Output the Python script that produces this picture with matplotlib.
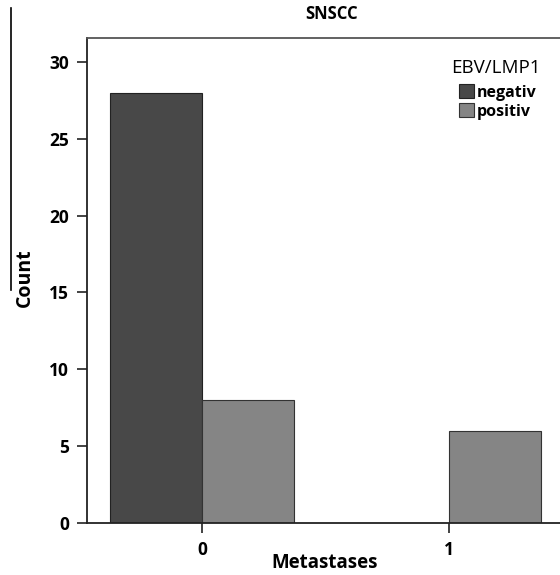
import matplotlib
matplotlib.use('Agg')
import matplotlib.pyplot as plt
from matplotlib.lines import Line2D
import numpy as np

plt.rcParams['font.family'] = ['Open Sans', 'DejaVu Sans']

categories = ['0', '1']
groups = ['negativ', 'positiv']
counts_negativ = [28, 0]
counts_positiv = [8, 6]
colors = ['#484848', '#858585']

fig = plt.figure(figsize=(5.6, 5.75), dpi=100)
ax = fig.add_axes([87/560, 1-523/575, 1-87/560, (523-38)/575])

x = np.arange(len(categories))
w = 0.372
ax.bar(x - w/2, counts_negativ, w, color=colors[0], edgecolor='#222222', linewidth=0.8, label=groups[0])
ax.bar(x + w/2, counts_positiv, w, color=colors[1], edgecolor='#333333', linewidth=0.8, label=groups[1])

ax.set_xlim(-0.466, 1.45)
ax.set_ylim(0, 31.56)
ax.set_yticks([0, 5, 10, 15, 20, 25, 30])
ax.set_xticks(x)
ax.set_xticklabels(categories)
for lab in ax.get_xticklabels() + ax.get_yticklabels():
    lab.set_fontweight('bold')
ax.tick_params(axis='both', labelsize=12.5, length=7, width=1.2, color='#222222', pad=6)
ax.spines['right'].set_visible(False)
for s in ['left', 'bottom']:
    ax.spines[s].set_linewidth(1.3)
    ax.spines[s].set_color('#222222')
ax.spines['top'].set_linewidth(1.3)
ax.spines['top'].set_color('#555555')

fig.text(325/560, 1-563/575, 'Metastases', ha='center', va='center', fontsize=13.5, fontweight='bold')
fig.text(25/560, 1-278/575, 'Count', ha='center', va='center', rotation=90, fontsize=14, fontweight='bold')
fig.text(332/560, 1-14/575, 'SNSCC', ha='center', va='center', fontsize=12, fontweight='bold')

# legend title drawn on its own so the gap to the entries matches
fig.text(496/560, 1-68/575, 'EBV/LMP1', ha='center', va='center', fontsize=13.5)
leg = ax.legend(loc='upper left', bbox_to_anchor=(459/560, 1-84/575),
                bbox_transform=fig.transFigure, frameon=False, borderpad=0, borderaxespad=0,
                handlelength=0.95, handleheight=1.0, handletextpad=0.15, labelspacing=0.15,
                prop={'size': 11.5, 'weight': 'bold'})

fig.add_artist(Line2D([11/560, 11/560], [1-8/575, 1-290/575], color='black', lw=1.2))

fig.savefig('out.png', dpi=100)
